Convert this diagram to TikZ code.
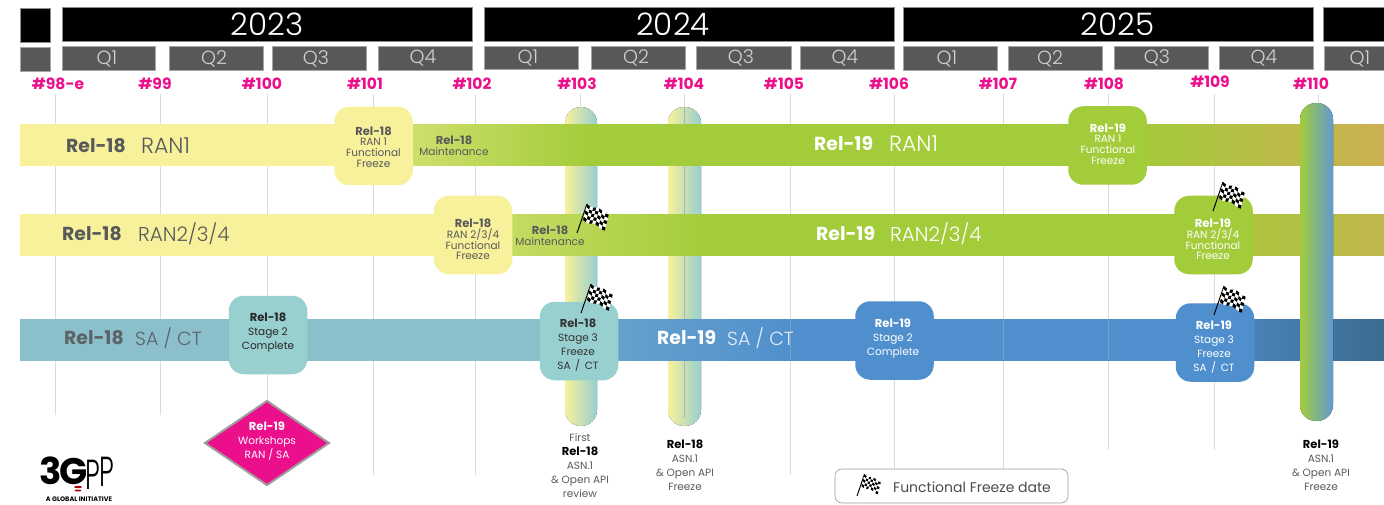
\documentclass[tikz,border=0pt]{standalone}
\usepackage{fontspec}
\setmainfont{Poppins}
\newfontfamily\lightf{Poppins Light}
\usetikzlibrary{shapes.geometric}
\definecolor{ink}{HTML}{58595B}
\definecolor{pinkm}{HTML}{EC0F8C}
\definecolor{yel}{HTML}{F8F19B}
\definecolor{grn}{HTML}{A2CC3A}
\definecolor{tan}{HTML}{CCB052}
\definecolor{tealb}{HTML}{8BBFCB}
\definecolor{tealn}{HTML}{98CFCF}
\definecolor{blu}{HTML}{4F8FCD}
\definecolor{dkb}{HTML}{3C6B8E}
\definecolor{qgray}{HTML}{58585A}
\definecolor{gridc}{HTML}{DADADA}
% TikZ maps the path onto 25bp..75bp of the shading
\pgfdeclarehorizontalshading{ranshade}{100bp}{color(0bp)=(yel); color(37.5bp)=(yel); color(39.5bp)=(grn!50!yel); color(46bp)=(grn); color(65.5bp)=(grn); color(75bp)=(tan); color(100bp)=(tan)}
\pgfdeclarehorizontalshading{rantwoshade}{100bp}{color(0bp)=(yel); color(40.5bp)=(yel); color(43bp)=(grn!60!yel); color(50.5bp)=(grn); color(67.5bp)=(grn); color(75bp)=(tan!75!grn); color(100bp)=(tan!75!grn)}
\pgfdeclarehorizontalshading{sashade}{100bp}{color(0bp)=(tealb); color(44bp)=(tealb); color(46.5bp)=(blu!60!tealb); color(53.5bp)=(blu); color(67.5bp)=(blu); color(75bp)=(dkb); color(100bp)=(dkb)}
\newcommand{\chkflag}[3]{%
\begin{scope}[shift={(#1,#2)},scale=#3]
\draw[black,line width=1pt] (0,0) -- (10,-29);
\foreach \i in {0,...,6}{\foreach \j in {0,...,4}{%
\pgfmathsetmacro{\cellk}{int(mod(\i+\j,2))}%
\pgfmathsetmacro{\ax}{10+\i*3.1-\j*0.8}\pgfmathsetmacro{\ay}{-29+\i*1.4+\j*3.2+1.2*sin(\i*70)}%
\pgfmathsetmacro{\bx}{10+(\i+1)*3.1-\j*0.8}\pgfmathsetmacro{\by}{-29+(\i+1)*1.4+\j*3.2+1.2*sin((\i+1)*70)}%
\pgfmathsetmacro{\cx}{10+(\i+1)*3.1-(\j+1)*0.8}\pgfmathsetmacro{\cy}{-29+(\i+1)*1.4+(\j+1)*3.2+1.2*sin((\i+1)*70)}%
\pgfmathsetmacro{\dx}{10+\i*3.1-(\j+1)*0.8}\pgfmathsetmacro{\dy}{-29+\i*1.4+(\j+1)*3.2+1.2*sin(\i*70)}%
\ifnum\cellk=0\def\cellc{black}\else\def\cellc{white}\fi
\fill[\cellc] (\ax,\ay) -- (\bx,\by) -- (\cx,\cy) -- (\dx,\dy) -- cycle;
}}
\end{scope}}
\tikzset{
 year/.style={fill=black,draw=black!45,line width=.5pt,minimum height=34pt,inner sep=0,text=white,font=\lightf\fontsize{31}{31}\selectfont},
 quarter/.style={fill=qgray,draw=black!35,line width=.5pt,minimum height=23.5pt,inner sep=0,text=white!82!black,font=\lightf\fontsize{19}{19}\selectfont},
 meet/.style={text=pinkm,inner sep=0,font=\bfseries\fontsize{15.5}{15.5}\selectfont},
 gridl/.style={draw=gridc,line width=1pt},
 bar/.style={shading angle=0},
 pill/.style={rounded corners=16pt,left color=yel,right color=tealn},
 mbox/.style={rounded corners=15pt,minimum width=78.5pt,minimum height=78.5pt,inner sep=0},
 rtitle/.style={inner sep=0,font=\bfseries\fontsize{18.8}{18.8}\selectfont,anchor=west},
 rsub/.style={inner sep=0,font=\lightf\fontsize{20}{20}\selectfont,anchor=west},
 tight/.style={inner sep=0,align=center,font=\fontsize{10.5}{10.7}\selectfont},
 loose/.style={inner sep=0,align=center,font=\fontsize{10.5}{14}\selectfont}
}
\newcommand{\hd}[1]{{\bfseries\fontsize{11.5}{10.7}\selectfont #1}}
\begin{document}
\begin{tikzpicture}[x=1pt,y=-1pt]
\useasboundingbox (0,0) rectangle (1384,505);
% year and quarter headers
\node[year,minimum width=30pt] (y22) at (35,25) {};
\node[year,minimum width=410pt] (y23) at (267,24.5) {2023};
\node[year,minimum width=410pt] (y24) at (689,24) {\hspace*{-32pt}2024};
\node[year,minimum width=410pt] (y25) at (1108,24) {\hspace*{19pt}2025};
\node[year,minimum width=61pt] (y26) at (1353.5,24.5) {};
\node[quarter,minimum width=30pt] (q0) at (35,59.5) {};
\foreach \nm/\xa/\xb/\yy/\dx/\tx in {a1/62/155/58.5/-3/Q1,a2/169/263/58.5/-4/Q2,a3/272/366/58.5/-6/Q3,a4/378/472/58.5/-4/Q4,
 b1/484/578/58/-6/Q1,b2/591/685/58/-4/Q2,b3/696/791/58/-5/Q3,b4/800/894/58/-4/Q4,
 c1/903/997/58.5/-6/Q1,c2/1008/1102/58.5/-10/Q2,c3/1114/1208/58/-8/Q3,c4/1219/1313/58/-4/Q4,d1/1324/1384/58.5/12/Q1}{
 \pgfmathsetmacro{\ctr}{(\xa+\xb)/2}\pgfmathsetmacro{\wid}{\xb-\xa}
 \node[quarter,minimum width=\wid pt] (q\nm) at (\ctr,\yy) {\hspace*{\dx pt}\tx};
}
% meeting labels
\foreach \nm/\xx/\yy/\tx in {m98/58/84/\#98-e,m99/155/84/\#99,m100/262/84/\#100,m101/365/84/\#101,m102/472/84/\#102,m103/577/84/\#103,m104/684/84/\#104,m105/784/84/\#105,m106/889/84/\#106,m107/998/84/\#107,m108/1104/84/\#108,m109/1210/82/\#109,m110/1311/84/\#110}{
 \node[meet] (\nm) at (\xx,\yy) {\tx};
}
% meeting grid lines
\foreach \xx/\ya in {55/415,160/415,267/475,373/475,475/475,580/108,790/475,894/470,1003/470,1108/450,1214/450,1318/110}{
 \draw[gridl] (\xx,94) -- (\xx,\ya);
}
\draw[gridl] (684,94) -- (684,108);
% ASN.1 pills behind the bars
\fill[pill] (565,107) rectangle (597,426);
\fill[pill] (668,107) rectangle (701,426);
\draw[black!30,line width=.7pt] (684.5,107) -- (684.5,418);
% release bars
\shade[bar,shading=ranshade] (20,125) rectangle (1384,166);
\shade[bar,shading=rantwoshade] (20,215) rectangle (1384,255);
\shade[bar,shading=sashade] (20,319) rectangle (1384,360);
% faint grid through the blue bar
\foreach \xx in {790,1003,1108}{\draw[black!25,opacity=.35,line width=.7pt] (\xx,319) -- (\xx,360);}
% pill on top of the bars
\fill[pill,left color=grn,right color=blu!90!white] (1300,103) rectangle (1333,421);
% bar captions
\node[rtitle,text=ink] (t1) at (66,146) {Rel-18};
\node[rsub,text=ink,font=\lightf\fontsize{22}{22}\selectfont] (s1) at (141,146) {RAN1};
\node[rtitle,text=ink] (t2) at (62,234) {Rel-18};
\node[rsub,text=ink] (s2) at (138,234) {RAN2/3/4};
\node[rtitle,text=ink!90!tealb] (t3) at (64,338) {Rel-18};
\node[rsub,text=ink!90!tealb,font=\lightf\fontsize{19}{19}\selectfont] (s3) at (135,338) {SA / CT};
\node[rtitle,text=white] (t4) at (814,144) {Rel-19};
\node[rsub,text=white,font=\lightf\fontsize{22}{22}\selectfont] (s4) at (889,144) {RAN1};
\node[rtitle,text=white] (t5) at (816,234) {Rel-19};
\node[rsub,text=white] (s5) at (890,234) {RAN2/3/4};
\node[rtitle,text=white] (t6) at (657,338) {Rel-19};
\node[rsub,text=white!85!blu,font=\lightf\fontsize{19}{19}\selectfont] (s6) at (727,338) {SA / CT};
\node[tight,text=ink] (mt1) at (454,146) {\hd{Rel-18}\\Maintenance};
\node[tight,text=ink] (mt2) at (550,236) {\hd{Rel-18}\\Maintenance};
% milestone boxes
\node[mbox,fill=yel] (b1) at (373.5,146) {};
\node[tight,text=ink] at (373.5,147) {\hd{Rel-18}\\RAN 1\\Functional\\Freeze};
\node[mbox,fill=yel] (b2) at (473,235) {};
\node[tight,text=ink] at (473,239.5) {\hd{Rel-18}\\RAN 2/3/4\\Functional\\Freeze};
\node[mbox,fill=tealn] (b3) at (268,335) {};
\node[loose,text=black!85] at (268,333) {\hd{Rel-18}\\Stage 2\\Complete};
\node[mbox,fill=tealn] (b4) at (579,341) {};
\node[loose,text=black!80] at (578,345.5) {\hd{Rel-18}\\Stage 3\\Freeze\\SA \,/\, CT};
\node[mbox,fill=grn] (b5) at (1107.5,145.5) {};
\node[tight,text=white] at (1108,144) {\hd{Rel-19}\\RAN 1\\Functional\\Freeze};
\node[mbox,fill=grn] (b6) at (1213.5,235) {};
\node[tight,text=white] at (1213,239.5) {\hd{Rel-19}\\RAN 2/3/4\\Functional\\Freeze};
\node[mbox,fill=blu] (b7) at (894.5,340.5) {};
\node[loose,text=white] at (893,338.5) {\hd{Rel-19}\\Stage 2\\Complete};
\node[mbox,fill=blu] (b8) at (1215,342.5) {};
\node[loose,text=white] at (1214,347) {\hd{Rel-19}\\Stage 3\\Freeze\\SA \,/\, CT};
% workshop diamond
\node[diamond,aspect=1.47,fill=pinkm,draw=black!38,line width=2pt,minimum width=125pt,minimum height=85pt,inner sep=0] (wk) at (267,443) {};
\node[loose,text=white] at (267,441) {\hd{Rel-19}\\Workshops\\RAN / SA};
% under-pill captions
\node[loose,text=ink] (c1) at (580,466) {First\\\hd{\textcolor{black}{Rel-18}}\\ASN.1\\\& Open API\\review};
\node[loose,text=ink] (c2) at (685,465) {\hd{\textcolor{black}{Rel-18}}\\ASN.1\\\& Open API\\Freeze};
\node[loose,text=ink] (c3) at (1321,465) {\hd{\textcolor{black}{Rel-19}}\\ASN.1\\\& Open API\\Freeze};
% flags
\chkflag{577}{233}{1}
\chkflag{581}{313}{1}
\chkflag{1213}{211}{1}
\chkflag{1214}{315}{1}
% legend
\node[draw=black!40,fill=white,rounded corners=7pt,line width=.6pt,minimum width=233pt,minimum height=34pt,inner sep=0] (lg) at (951.5,486) {};
\chkflag{857}{496}{.75}
\node[inner sep=0,anchor=west,text=ink!85!black,font=\fontsize{14}{14}\selectfont] (lt) at (893,487) {Functional Freeze date};
% logo
\node[inner sep=0,anchor=west,font=\bfseries\fontsize{37}{30}\selectfont\addfontfeatures{LetterSpace=-6}] (lg3) at (39,471) {3G};
\node[inner sep=0,anchor=west,xscale=.62,font=\lightf\fontsize{42}{30}\selectfont] (lgp) at (85,473) {P\raisebox{3pt}{P}};
\fill[red!70!black] (78,487) ellipse (4pt and 1.2pt);
\fill[red!70!black] (78,490.5) ellipse (3.5pt and 1pt);
\node[inner sep=0,font=\bfseries\fontsize{6.5}{6.5}\selectfont] (lgt) at (79,499) {A GLOBAL INITIATIVE};
\end{tikzpicture}
\end{document}
